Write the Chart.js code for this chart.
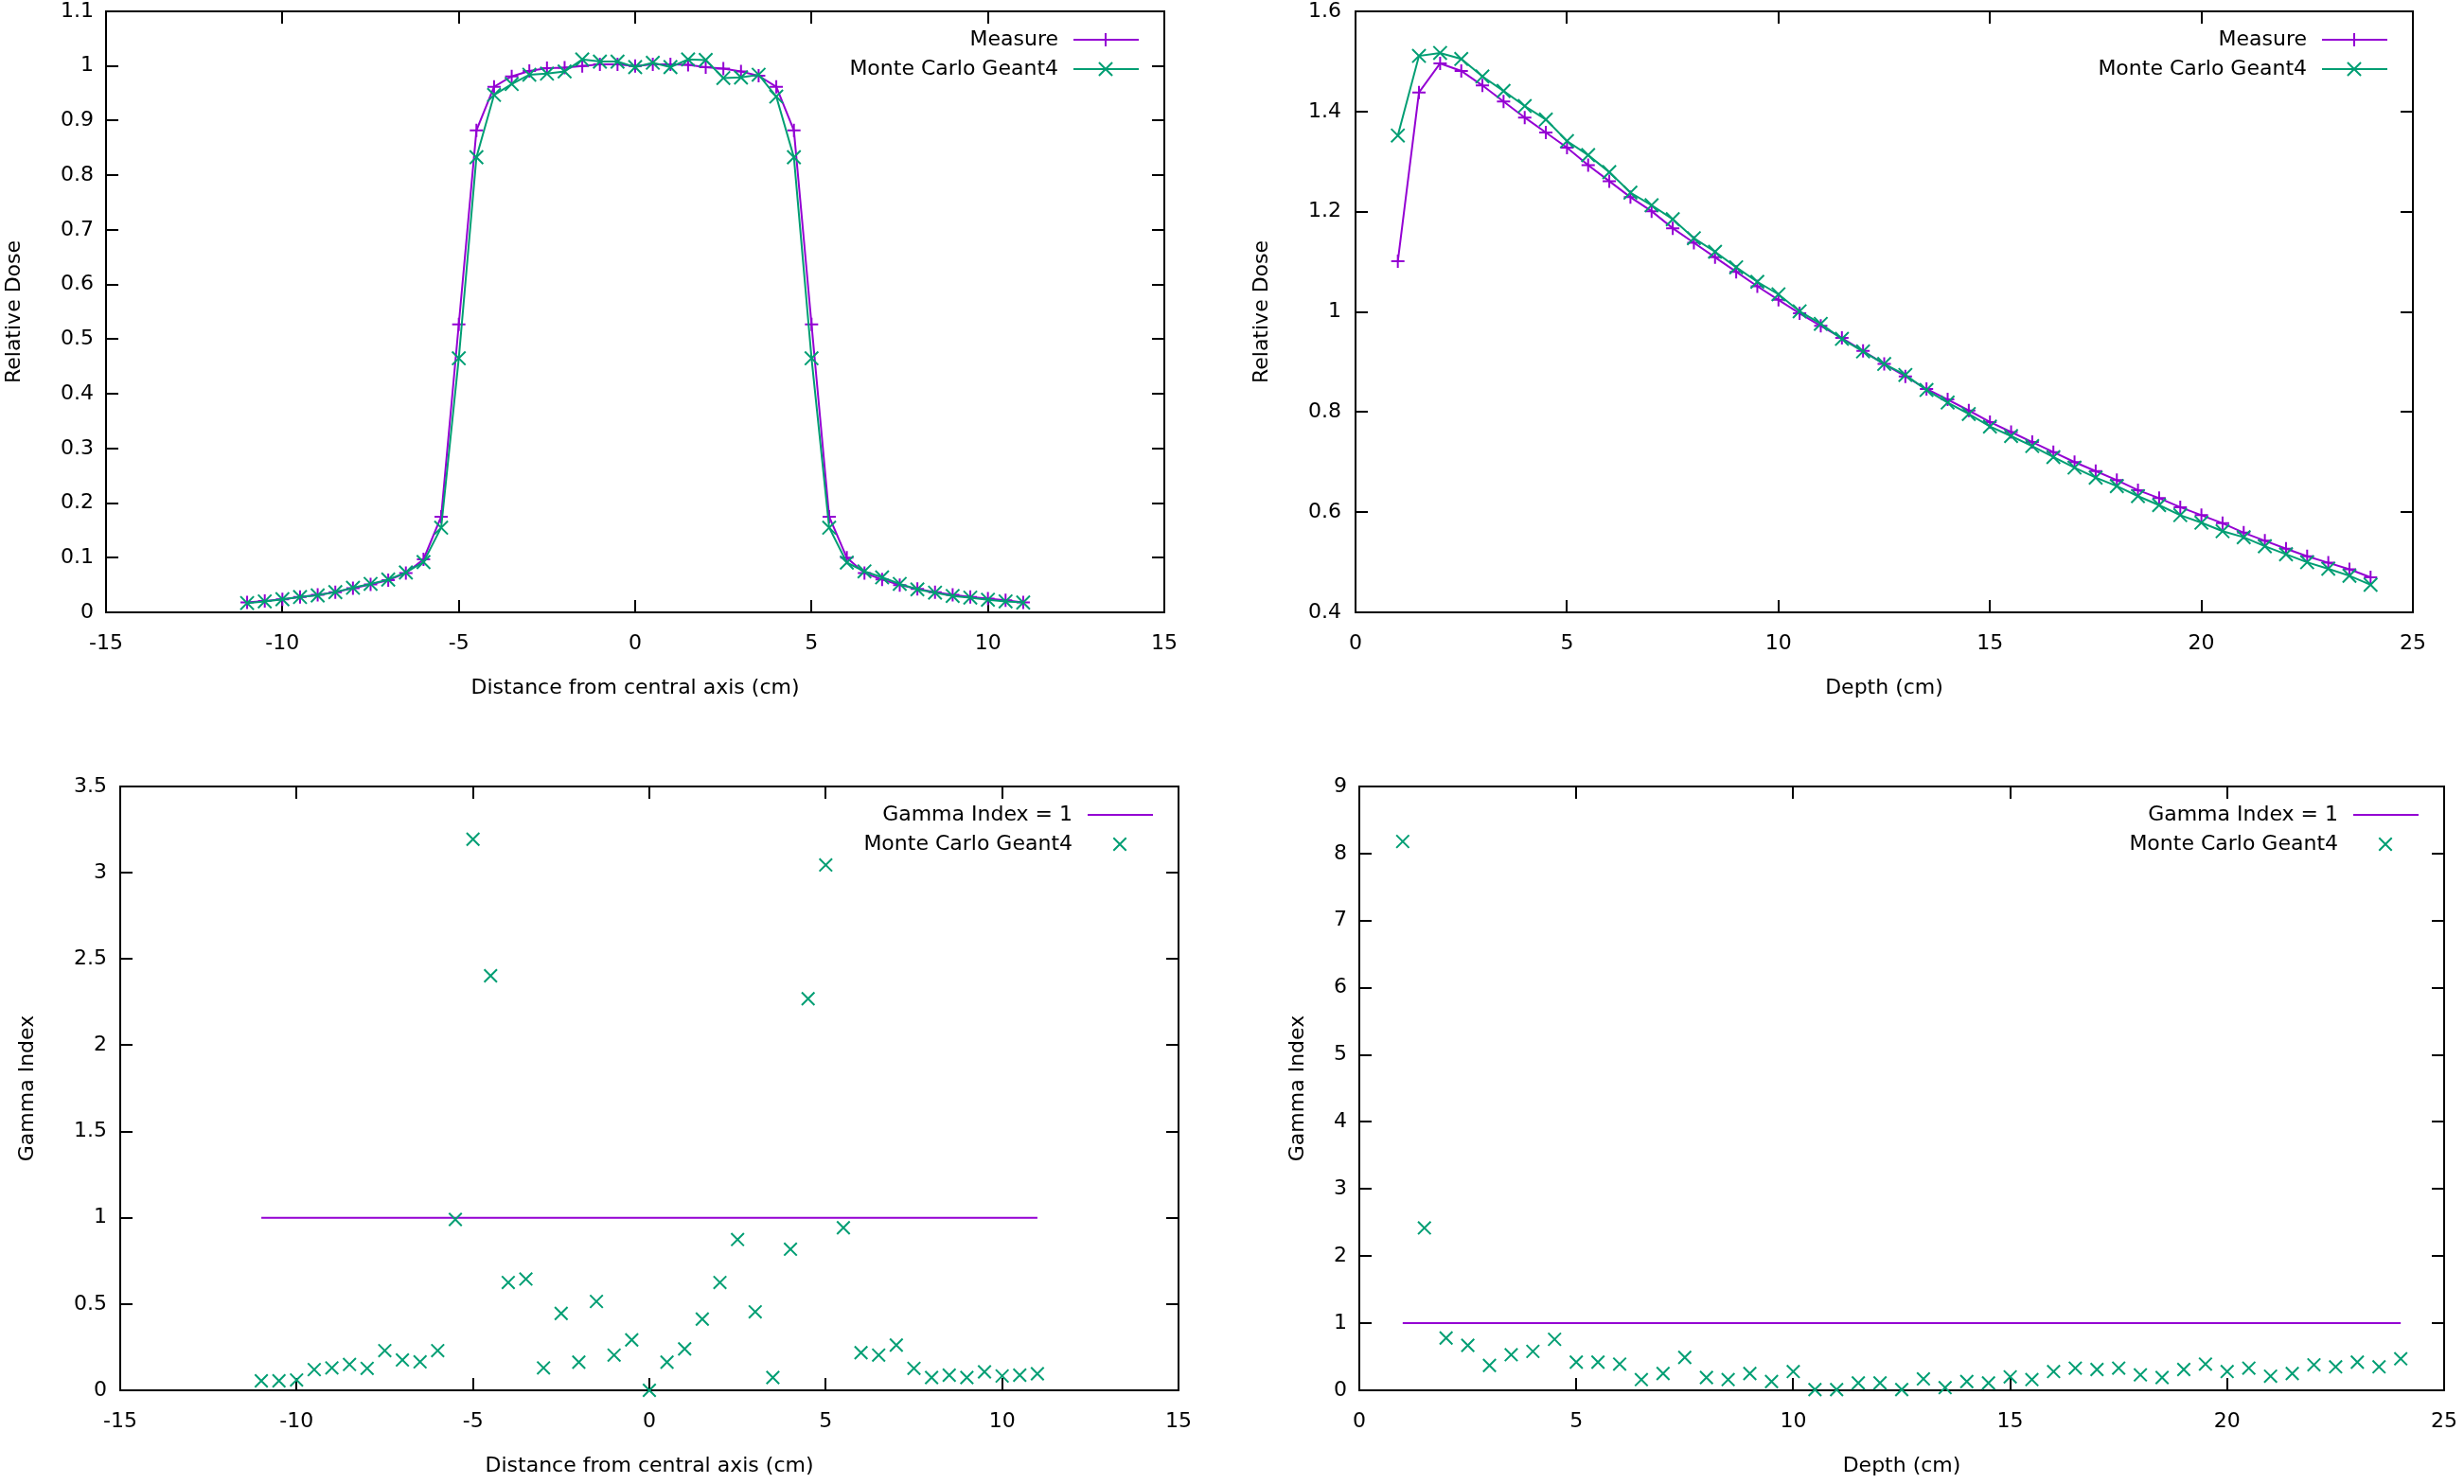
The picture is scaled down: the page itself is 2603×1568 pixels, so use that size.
<!DOCTYPE html>
<html>
<head>
<meta charset="utf-8">
<title>Dose profiles and gamma index</title>
<script src="https://cdn.jsdelivr.net/npm/chart.js@4.4.1/dist/chart.umd.min.js"></script>
<style>
html, body { margin: 0; padding: 0; background: #ffffff; }
body { width: 2603px; height: 1568px; position: relative; overflow: hidden; }
.panel { position: absolute; }
.panel canvas { display: block; }
</style>
</head>
<body>
<div class="panel" style="left:0px;top:0px;width:1300px;height:780px"><canvas id="profileChart" width="1300" height="780"></canvas></div>
<div class="panel" style="left:1300px;top:0px;width:1303px;height:780px"><canvas id="depthChart" width="1303" height="780"></canvas></div>
<div class="panel" style="left:0px;top:780px;width:1300px;height:788px"><canvas id="profileGammaChart" width="1300" height="788"></canvas></div>
<div class="panel" style="left:1300px;top:780px;width:1303px;height:788px"><canvas id="depthGammaChart" width="1303" height="788"></canvas></div>
<script>
// ---------- DATA ----------
const profileX = [-11, -10.5, -10, -9.5, -9, -8.5, -8, -7.5, -7, -6.5, -6, -5.5, -5, -4.5, -4, -3.5, -3, -2.5, -2, -1.5, -1, -0.5, 0, 0.5, 1, 1.5, 2, 2.5, 3, 3.5, 4, 4.5, 5, 5.5, 6, 6.5, 7, 7.5, 8, 8.5, 9, 9.5, 10, 10.5, 11];
const profileMeasure = [0.018, 0.021, 0.024, 0.028, 0.032, 0.037, 0.044, 0.051, 0.059, 0.072, 0.097, 0.175, 0.527, 0.882, 0.962, 0.981, 0.991, 0.996, 0.997, 1.000, 1.003, 1.003, 1.000, 1.003, 1.003, 1.002, 0.998, 0.995, 0.990, 0.982, 0.962, 0.882, 0.527, 0.175, 0.100, 0.072, 0.060, 0.050, 0.043, 0.037, 0.032, 0.028, 0.025, 0.022, 0.018];
const profileMonteCarlo = [0.017, 0.020, 0.024, 0.028, 0.031, 0.037, 0.045, 0.052, 0.060, 0.073, 0.092, 0.155, 0.465, 0.833, 0.947, 0.967, 0.984, 0.986, 0.990, 1.012, 1.008, 1.008, 0.998, 1.006, 0.998, 1.012, 1.011, 0.978, 0.979, 0.984, 0.944, 0.833, 0.465, 0.155, 0.091, 0.075, 0.064, 0.052, 0.042, 0.036, 0.030, 0.027, 0.023, 0.020, 0.018];

const depthX = [1, 1.5, 2, 2.5, 3, 3.5, 4, 4.5, 5, 5.5, 6, 6.5, 7, 7.5, 8, 8.5, 9, 9.5, 10, 10.5, 11, 11.5, 12, 12.5, 13, 13.5, 14, 14.5, 15, 15.5, 16, 16.5, 17, 17.5, 18, 18.5, 19, 19.5, 20, 20.5, 21, 21.5, 22, 22.5, 23, 23.5, 24];
const depthMeasure = [1.101, 1.438, 1.496, 1.481, 1.452, 1.420, 1.388, 1.358, 1.328, 1.293, 1.261, 1.229, 1.201, 1.167, 1.138, 1.109, 1.080, 1.051, 1.024, 0.997, 0.972, 0.948, 0.922, 0.896, 0.871, 0.846, 0.825, 0.803, 0.780, 0.760, 0.740, 0.720, 0.700, 0.682, 0.664, 0.644, 0.628, 0.610, 0.594, 0.578, 0.559, 0.543, 0.527, 0.512, 0.499, 0.486, 0.470];
const depthMonteCarlo = [1.352, 1.511, 1.517, 1.505, 1.470, 1.441, 1.411, 1.384, 1.341, 1.313, 1.279, 1.238, 1.213, 1.185, 1.147, 1.120, 1.089, 1.060, 1.035, 1.001, 0.976, 0.946, 0.921, 0.896, 0.874, 0.844, 0.819, 0.796, 0.771, 0.752, 0.732, 0.710, 0.689, 0.669, 0.652, 0.632, 0.614, 0.594, 0.579, 0.562, 0.550, 0.532, 0.516, 0.500, 0.487, 0.473, 0.455];

const profileGamma = [0.055, 0.055, 0.060, 0.120, 0.130, 0.150, 0.127, 0.230, 0.176, 0.165, 0.230, 0.990, 3.194, 2.403, 0.625, 0.645, 0.130, 0.446, 0.163, 0.515, 0.204, 0.292, 0.000, 0.163, 0.240, 0.413, 0.625, 0.874, 0.455, 0.074, 0.818, 2.270, 3.045, 0.942, 0.218, 0.204, 0.262, 0.127, 0.074, 0.088, 0.074, 0.107, 0.083, 0.088, 0.096];
const depthGamma = [8.18, 2.42, 0.78, 0.67, 0.37, 0.53, 0.58, 0.76, 0.42, 0.42, 0.39, 0.16, 0.25, 0.49, 0.19, 0.16, 0.25, 0.13, 0.28, 0.01, 0.01, 0.11, 0.11, 0.01, 0.17, 0.04, 0.13, 0.11, 0.20, 0.16, 0.28, 0.33, 0.31, 0.33, 0.23, 0.19, 0.31, 0.39, 0.28, 0.33, 0.21, 0.25, 0.38, 0.35, 0.42, 0.35, 0.47];

const gammaThreshold = 1;
const profileGammaLineX = [-11, 11];
const depthGammaLineX = [1, 24];

// tick values
const profileXTicks = [-15, -10, -5, 0, 5, 10, 15];
const depthXTicks = [0, 5, 10, 15, 20, 25];
const profileDoseTicks = [0, 0.1, 0.2, 0.3, 0.4, 0.5, 0.6, 0.7, 0.8, 0.9, 1, 1.1];
const depthDoseTicks = [0.4, 0.6, 0.8, 1, 1.2, 1.4, 1.6];
const profileGammaTicks = [0, 0.5, 1, 1.5, 2, 2.5, 3, 3.5];
const depthGammaTicks = [0, 1, 2, 3, 4, 5, 6, 7, 8, 9];

// labels
const labelMeasure = 'Measure';
const labelMonteCarlo = 'Monte Carlo Geant4';
const labelGammaLine = 'Gamma Index = 1';
const titleDistance = 'Distance from central axis (cm)';
const titleDepth = 'Depth (cm)';
const titleDose = 'Relative Dose';
const titleGamma = 'Gamma Index';

// ---------- STYLE ----------
const PURPLE = '#9400D3';
const GREEN = '#009E73';
const FONT_FAMILY = "'DejaVu Sans', 'Verdana', sans-serif";
const FONT = { family: FONT_FAMILY, size: 22 };
const TICK_LEN = 13;

const gnuFrame = {
  id: 'gnuFrame',
  beforeDatasetsDraw(chart, args, opts) {
    const { ctx, chartArea: a, scales } = chart;
    const xs = scales.x, ys = scales.y;
    ctx.save();
    ctx.strokeStyle = '#000';
    ctx.lineWidth = 2;
    ctx.beginPath();
    xs.ticks.forEach(t => {
      const p = Math.round(xs.getPixelForValue(t.value));
      if (p <= a.left + 1 || p >= a.right - 1) return;
      ctx.moveTo(p, a.bottom); ctx.lineTo(p, a.bottom - TICK_LEN);
      ctx.moveTo(p, a.top); ctx.lineTo(p, a.top + TICK_LEN);
    });
    ys.ticks.forEach(t => {
      const p = Math.round(ys.getPixelForValue(t.value));
      if (p <= a.top + 1 || p >= a.bottom - 1) return;
      ctx.moveTo(a.left, p); ctx.lineTo(a.left + TICK_LEN, p);
      ctx.moveTo(a.right, p); ctx.lineTo(a.right - TICK_LEN, p);
    });
    ctx.stroke();
    ctx.strokeRect(Math.round(a.left), Math.round(a.top), Math.round(a.right - a.left), Math.round(a.bottom - a.top));
    ctx.restore();
  },
  afterDatasetsDraw(chart, args, opts) {
    const { ctx, chartArea: a } = chart;
    const items = opts.items || [];
    ctx.save();
    items.forEach((it, i) => {
      const cy = Math.round(a.top + 30 + i * 31);
      ctx.font = FONT.size + 'px ' + FONT_FAMILY;
      ctx.textAlign = 'right';
      ctx.textBaseline = 'middle';
      ctx.fillStyle = '#000';
      ctx.fillText(it.label, a.right - 112, cy);
      ctx.strokeStyle = it.color;
      ctx.fillStyle = it.color;
      ctx.lineWidth = 2;
      if (it.line) {
        ctx.beginPath();
        ctx.moveTo(a.right - 96, cy);
        ctx.lineTo(a.right - 27, cy);
        ctx.stroke();
      }
      if (it.marker) {
        Chart.helpers.drawPoint(ctx, { pointStyle: it.marker, radius: it.radius, borderWidth: 2, rotation: 0 }, a.right - 62, cy);
      }
    });
    ctx.restore();
  }
};

function pairs(xs, ys) { return xs.map((x, i) => ({ x: x, y: ys[i] })); }

function makeChart(id, geo, xAxis, yAxis, datasets, legendItems) {
  return new Chart(document.getElementById(id), {
    type: 'line',
    data: { datasets: datasets },
    options: {
      responsive: false,
      animation: false,
      events: [],
      devicePixelRatio: 1,
      layout: { padding: { left: 0, top: geo.top, right: geo.right, bottom: 0 } },
      plugins: {
        legend: { display: false },
        tooltip: { enabled: false },
        gnuFrame: { items: legendItems }
      },
      scales: {
        x: {
          type: 'linear',
          min: xAxis.ticks[0],
          max: xAxis.ticks[xAxis.ticks.length - 1],
          afterBuildTicks: s => { s.ticks = xAxis.ticks.map(v => ({ value: v })); },
          afterFit: s => { s.height = geo.xh; s.paddingLeft = 0; s.paddingRight = 0; },
          grid: { display: false, drawTicks: false },
          border: { display: false },
          ticks: { autoSkip: false, maxRotation: 0, minRotation: 0, padding: 20, font: FONT, color: '#000', callback: v => String(v) },
          title: { display: true, text: xAxis.title, font: FONT, color: '#000', padding: { top: 0, bottom: geo.xtp } }
        },
        y: {
          type: 'linear',
          min: yAxis.ticks[0],
          max: yAxis.ticks[yAxis.ticks.length - 1],
          afterBuildTicks: s => { s.ticks = yAxis.ticks.map(v => ({ value: v })); },
          afterFit: s => { s.width = geo.yw; s.paddingTop = 0; s.paddingBottom = 0; },
          grid: { display: false, drawTicks: false },
          border: { display: false },
          ticks: { autoSkip: false, padding: geo.ytp, font: FONT, color: '#000', callback: v => String(v) },
          title: { display: true, text: yAxis.title, font: FONT, color: '#000', padding: { top: geo.ytitle, bottom: 0 } }
        }
      }
    },
    plugins: [gnuFrame]
  });
}

function curve(label, xs, ys, color, style, radius, order) {
  return {
    label: label, data: pairs(xs, ys), borderColor: color, backgroundColor: color,
    borderWidth: 2, tension: 0, pointStyle: style, pointRadius: radius,
    pointBorderColor: color, pointBackgroundColor: color, pointBorderWidth: 2,
    clip: false, order: order
  };
}
function scatter(label, xs, ys, color, radius, order) {
  return {
    label: label, data: pairs(xs, ys), showLine: false, borderColor: color, backgroundColor: color,
    pointStyle: 'crossRot', pointRadius: radius, pointBorderColor: color, pointBackgroundColor: color,
    pointBorderWidth: 2, clip: false, order: order
  };
}
function thresholdLine(label, xs, color, order) {
  return {
    label: label, data: xs.map(x => ({ x: x, y: gammaThreshold })), borderColor: color, backgroundColor: color,
    borderWidth: 2, pointRadius: 0, tension: 0, clip: false, order: order
  };
}

// Top-left: lateral profile
makeChart('profileChart',
  { top: 10, right: 70, yw: 112, xh: 133, ytp: 13, xtp: 40, ytitle: 2 },
  { ticks: profileXTicks, title: titleDistance },
  { ticks: profileDoseTicks, title: titleDose },
  [
    curve(labelMeasure, profileX, profileMeasure, PURPLE, 'cross', 7, 1),
    curve(labelMonteCarlo, profileX, profileMonteCarlo, GREEN, 'crossRot', 10, 0)
  ],
  [
    { label: labelMeasure, color: PURPLE, line: true, marker: 'cross', radius: 7 },
    { label: labelMonteCarlo, color: GREEN, line: true, marker: 'crossRot', radius: 10 }
  ]);

// Top-right: depth dose
makeChart('depthChart',
  { top: 10, right: 54, yw: 132, xh: 133, ytp: 15, xtp: 40, ytitle: 20 },
  { ticks: depthXTicks, title: titleDepth },
  { ticks: depthDoseTicks, title: titleDose },
  [
    curve(labelMeasure, depthX, depthMeasure, PURPLE, 'cross', 7, 1),
    curve(labelMonteCarlo, depthX, depthMonteCarlo, GREEN, 'crossRot', 10, 0)
  ],
  [
    { label: labelMeasure, color: PURPLE, line: true, marker: 'cross', radius: 7 },
    { label: labelMonteCarlo, color: GREEN, line: true, marker: 'crossRot', radius: 10 }
  ]);

// Bottom-left: gamma along profile
makeChart('profileGammaChart',
  { top: 51, right: 55, yw: 127, xh: 99, ytp: 14, xtp: 6, ytitle: 16 },
  { ticks: profileXTicks, title: titleDistance },
  { ticks: profileGammaTicks, title: titleGamma },
  [
    thresholdLine(labelGammaLine, profileGammaLineX, PURPLE, 1),
    scatter(labelMonteCarlo, profileX, profileGamma, GREEN, 9.5, 0)
  ],
  [
    { label: labelGammaLine, color: PURPLE, line: true },
    { label: labelMonteCarlo, color: GREEN, line: false, marker: 'crossRot', radius: 9.5 }
  ]);

// Bottom-right: gamma along depth
makeChart('depthGammaChart',
  { top: 51, right: 21, yw: 136, xh: 99, ytp: 13, xtp: 6, ytitle: 58 },
  { ticks: depthXTicks, title: titleDepth },
  { ticks: depthGammaTicks, title: titleGamma },
  [
    thresholdLine(labelGammaLine, depthGammaLineX, PURPLE, 1),
    scatter(labelMonteCarlo, depthX, depthGamma, GREEN, 9.5, 0)
  ],
  [
    { label: labelGammaLine, color: PURPLE, line: true },
    { label: labelMonteCarlo, color: GREEN, line: false, marker: 'crossRot', radius: 9.5 }
  ]);
</script>
</body>
</html>
